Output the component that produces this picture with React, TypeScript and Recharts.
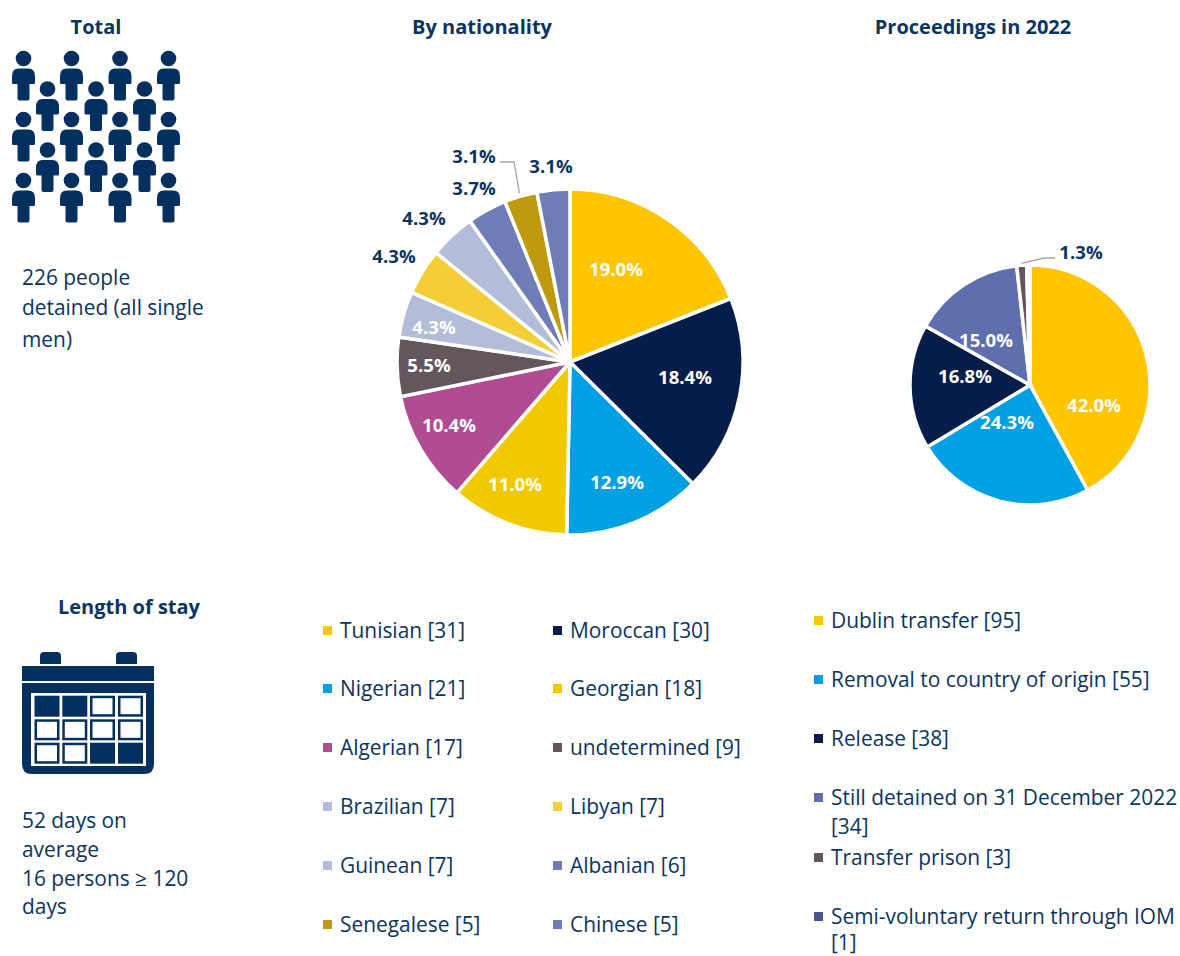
import { PieChart, Pie, Cell } from 'recharts'

const nationalityNames = ['Tunisian', 'Moroccan', 'Nigerian', 'Georgian', 'Algerian', 'undetermined', 'Brazilian', 'Libyan', 'Guinean', 'Albanian', 'Senegalese', 'Chinese']
const nationalityCounts = [31, 30, 21, 18, 17, 9, 7, 7, 7, 6, 5, 5]
const nationalityColors = ['#FFC600', '#071D49', '#00A0E3', '#F2C900', '#AF4C92', '#63565C', '#B3BDD9', '#F4CE37', '#B3BDD9', '#6E7DB5', '#BF9A0C', '#6E7DB5']

const outcomeNames = ['Dublin transfer', 'Removal to country of origin', 'Release', 'Still detained on 31 December 2022', 'Transfer prison', 'Semi-voluntary return through IOM']
const outcomeCounts = [95, 55, 38, 34, 3, 1]
const outcomeColors = ['#FFC600', '#00A0E3', '#071D49', '#5F6FAE', '#63565C', '#46588F']

const NAVY = '#0B3560'
const ICON = '#03305F'
const FONT = '"Open Sans", sans-serif'

// where the percentage labels sit
const nationalityLabelPos = [[616, 268], [685, 376], [617, 481], [515, 483], [449, 424], [429, 364], [434, 326], [394, 255], [424, 217], [474, 187], [474, 155], [551, 165]]
const outcomeLabelPos = [[1094, 404], [1007, 421], [965, 375], [986, 339], [1081, 251]]
const whiteLabels1 = 7 // first slices of the nationality pie have white labels
const whiteLabels2 = 4

const personCols = [23.5, 71.5, 120, 168.5]
const personRows = [58.5, 119.5, 180.5]
const personColsOff = [47.5, 96, 144.5]
const personRowsOff = [89, 150]

const calendarFilled = ['0-0', '0-1', '2-2', '2-3']
const calX = [34.5, 62.3, 90, 118]
const calY = [695.7, 719.3, 742.7]

const rad = Math.PI / 180

function makeLabel(pos: number[][], whiteCount: number, guideIndex: number, guide: (x: number, y: number) => string) {
  return (props: any) => {
    const { index, percent, cx, cy, midAngle, outerRadius } = props
    if (!pos[index]) return null
    const [x, y] = pos[index]
    const sx = cx + (outerRadius + 1) * Math.cos(-midAngle * rad)
    const sy = cy + (outerRadius + 1) * Math.sin(-midAngle * rad)
    return (
      <g>
        {index === guideIndex && <polyline points={guide(sx, sy)} fill="none" stroke="#A6A6A6" strokeWidth={1.3} />}
        <text x={x} y={y} textAnchor="middle" dominantBaseline="central" fontFamily={FONT} fontWeight={700} fontSize={18.6}
          fill={index < whiteCount ? '#FFFFFF' : NAVY}>
          {(percent * 100).toFixed(1)}%
        </text>
      </g>
    )
  }
}

const Person = ({ x, y }: { x: number; y: number }) => (
  <g fill={ICON}>
    <circle cx={x} cy={y} r={7.8} />
    <path d={`M${x - 5} ${y + 10} h10 q6.5 0 6.5 8 v6 q0 1.5 -1.5 1.5 h-4 v14.5 q0 2 -2 2 h-8 q-2 0 -2 -2 v-14.5 h-4 q-1.5 0 -1.5 -1.5 v-6 q0 -8 6.5 -8 z`} />
  </g>
)

const Calendar = () => (
  <g>
    <path d="M40 664 V656 Q40 652 44 652 H57 Q61 652 61 656 V664 Z" fill={ICON} />
    <path d="M116 664 V656 Q116 652 120 652 H133 Q137 652 137 656 V664 Z" fill={ICON} />
    <rect x={22} y={666} width={132} height={15} fill={ICON} />
    <path d="M22 683 H154 V764 Q154 774 144 774 H32 Q22 774 22 764 Z" fill={ICON} />
    <rect x={31} y={693} width={115} height={73} fill="#FFFFFF" />
    {calY.map((y, r) => calX.map((x, c) => (
      <g key={`${r}-${c}`}>
        <rect x={x} y={y} width={25} height={21} fill={ICON} />
        {!calendarFilled.includes(`${r}-${c}`) && <rect x={x + 2.5} y={y + 2.5} width={20} height={16} fill="#FFFFFF" />}
      </g>
    )))}
  </g>
)

const Title = ({ x, y, children }: any) => (
  <div style={{ position: 'absolute', left: x - 150, top: y - 15, width: 300, textAlign: 'center', fontWeight: 700, fontSize: 20, lineHeight: '30px', color: NAVY }}>{children}</div>
)

const TextLines = ({ x, ys, lines }: { x: number; ys: number[]; lines: string[] }) => (
  <>
    {lines.map((line, i) => (
      <div key={line} style={{ position: 'absolute', left: x, top: ys[i] - 10, lineHeight: '20px', fontSize: 20.9, color: NAVY, whiteSpace: 'nowrap' }}>{line}</div>
    ))}
  </>
)

const Swatch = ({ x, y, color }: { x: number; y: number; color: string }) => (
  <div style={{ position: 'absolute', left: x, top: y - 4.5, width: 9, height: 9, background: color }} />
)

const rowY1 = [630, 688, 747, 806, 865, 924]
const rowY2 = [620, 679, 738, 797, 857, 916]
// second line of the two wrapped entries; the last one has to stay inside the page
const wrapGap: Record<number, number> = { 3: 29, 5: 26 }

export default function App() {
  const nationalityData = nationalityNames.map((name, i) => ({ name, value: nationalityCounts[i] }))
  const outcomeData = outcomeNames.map((name, i) => ({ name, value: outcomeCounts[i] }))

  return (
    <div style={{ position: 'absolute', left: 0, top: 0, width: 1180, height: 956, background: '#fff', fontFamily: FONT, overflow: 'hidden' }}>
      <svg width={1180} height={956} style={{ position: 'absolute', left: 0, top: 0 }}>
        {personCols.map(x => personRows.map(y => <Person key={`${x}-${y}`} x={x} y={y} />))}
        {personColsOff.map(x => personRowsOff.map(y => <Person key={`${x}-${y}`} x={x} y={y} />))}
        <Calendar />
      </svg>

      <div style={{ position: 'absolute', left: 0, top: 0 }}>
        <PieChart width={1180} height={956} margin={{ top: 0, right: 0, bottom: 0, left: 0 }}>
          <Pie
            data={nationalityData} dataKey="value" nameKey="name"
            cx={570} cy={362} outerRadius={173} startAngle={90} endAngle={-270}
            stroke="#FFFFFF" strokeWidth={3.5} isAnimationActive={false} labelLine={false}
            label={makeLabel(nationalityLabelPos, whiteLabels1, 10, (sx, sy) => `${sx - 1},${sy - 2} 514,162 500,162`)}
          >
            {nationalityData.map((d, i) => <Cell key={d.name} fill={nationalityColors[i]} />)}
          </Pie>
          <Pie
            data={outcomeData} dataKey="value" nameKey="name"
            cx={1030} cy={385} outerRadius={120} startAngle={90} endAngle={-270}
            stroke="#FFFFFF" strokeWidth={3.5} isAnimationActive={false} labelLine={false}
            label={makeLabel(outcomeLabelPos, whiteLabels2, 4, (sx, sy) => `${sx},${sy - 1} 1044,258 1055,258`)}
          >
            {outcomeData.map((d, i) => <Cell key={d.name} fill={outcomeColors[i]} />)}
          </Pie>
        </PieChart>
      </div>

      <Title x={96} y={27}>Total</Title>
      <Title x={482} y={27}>By nationality</Title>
      <Title x={973} y={27}>Proceedings in 2022</Title>
      <Title x={129} y={607}>Length of stay</Title>

      <TextLines x={22} ys={[277, 307, 339]} lines={['226 people', 'detained (all single', 'men)']} />
      <TextLines x={22} ys={[820, 849, 878, 906]} lines={['52 days on', 'average', '16 persons ≥ 120', 'days']} />

      {nationalityNames.map((name, i) => {
        const col = i % 2
        const y = rowY1[Math.floor(i / 2)]
        return (
          <div key={name}>
            <Swatch x={col ? 553 : 323} y={y} color={nationalityColors[i]} />
            <TextLines x={col ? 570 : 340} ys={[y]} lines={[`${name} [${nationalityCounts[i]}]`]} />
          </div>
        )
      })}

      {outcomeNames.map((name, i) => (
        <div key={name}>
          <Swatch x={814} y={rowY2[i]} color={outcomeColors[i]} />
          {wrapGap[i]
            ? <TextLines x={831} ys={[rowY2[i], rowY2[i] + wrapGap[i]]} lines={[name, `[${outcomeCounts[i]}]`]} />
            : <TextLines x={831} ys={[rowY2[i]]} lines={[`${name} [${outcomeCounts[i]}]`]} />}
        </div>
      ))}
    </div>
  )
}
